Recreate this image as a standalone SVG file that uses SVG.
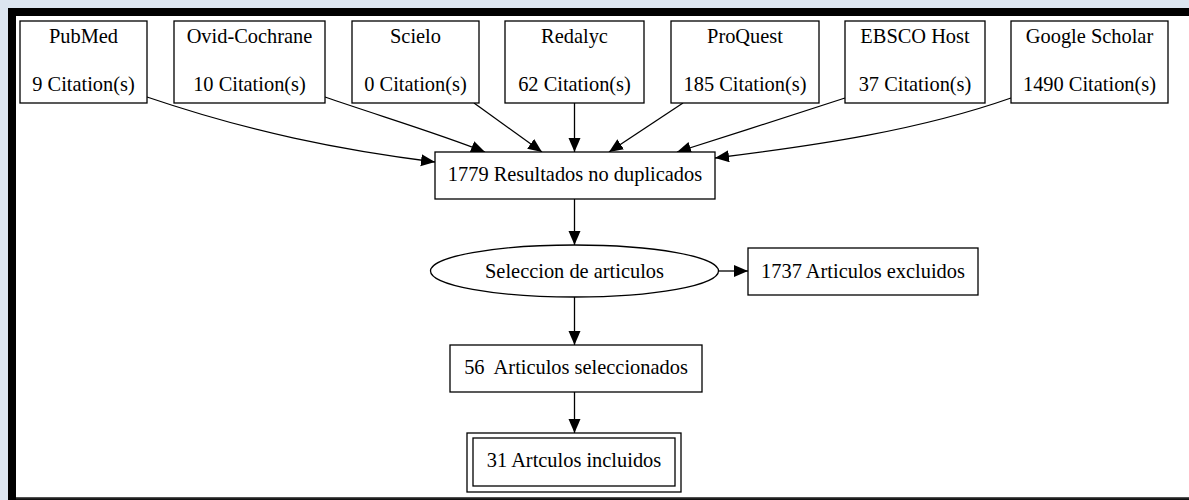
<svg xmlns="http://www.w3.org/2000/svg" width="1189" height="500" viewBox="0 0 1189 500">
<style>
.box{fill:#fff;stroke:#000;stroke-width:1.3}
.t{font-family:"Liberation Serif","Times New Roman",serif;font-size:20.4px;fill:#000;text-anchor:middle}
.e{fill:none;stroke:#000;stroke-width:1.3}
</style>
<defs>
<marker id="ah" markerUnits="userSpaceOnUse" markerWidth="16" markerHeight="14" refX="14" refY="6" orient="auto">
<path d="M0,0 L14,6 L0,12 Z" fill="#000"/>
</marker>
</defs>
<rect x="0" y="0" width="1189" height="500" fill="#dce5f0"/>
<rect x="8" y="8" width="1181" height="492" fill="#000"/>
<rect x="16" y="16" width="1173" height="481.5" fill="#fff"/>
<line x1="16" y1="498.5" x2="1189" y2="498.5" stroke="#222" stroke-width="2"/>

<g id="connectors">
<path class="e" d="M147,97 C250,132 340,150 435,162" marker-end="url(#ah)"/>
<path class="e" d="M325,97 C380,116 440,134 485,152" marker-end="url(#ah)"/>
<path class="e" d="M474,103 L542,152" marker-end="url(#ah)"/>
<path class="e" d="M574.5,103 L574.5,152" marker-end="url(#ah)"/>
<path class="e" d="M683,103 L609,152" marker-end="url(#ah)"/>
<path class="e" d="M845,98 C800,113 730,135 677,152" marker-end="url(#ah)"/>
<path class="e" d="M1011,98 C920,130 820,145 715,158" marker-end="url(#ah)"/>
<path class="e" d="M574.5,199 L574.5,245" marker-end="url(#ah)"/>
<path class="e" d="M718,271 L748,271" marker-end="url(#ah)"/>
<path class="e" d="M574.5,297 L574.5,345" marker-end="url(#ah)"/>
<path class="e" d="M574.5,392 L574.5,433" marker-end="url(#ah)"/>
</g>

<g id="pubmed"><rect class="box" x="20" y="21" width="127" height="82"/><text class="t" x="83.5" y="43">PubMed</text><text class="t" x="83.5" y="91">9 Citation(s)</text></g>
<g id="ovid"><rect class="box" x="174" y="21" width="151" height="82"/><text class="t" x="249.5" y="43">Ovid-Cochrane</text><text class="t" x="249.5" y="91">10 Citation(s)</text></g>
<g id="scielo"><rect class="box" x="352" y="21" width="127" height="82"/><text class="t" x="415.5" y="43">Scielo</text><text class="t" x="415.5" y="91">0 Citation(s)</text></g>
<g id="redalyc"><rect class="box" x="505" y="21" width="139" height="82"/><text class="t" x="574.5" y="43">Redalyc</text><text class="t" x="574.5" y="91">62 Citation(s)</text></g>
<g id="proquest"><rect class="box" x="671" y="21" width="148" height="82"/><text class="t" x="745" y="43">ProQuest</text><text class="t" x="745" y="91">185 Citation(s)</text></g>
<g id="ebsco"><rect class="box" x="845" y="21" width="140" height="82"/><text class="t" x="915" y="43">EBSCO Host</text><text class="t" x="915" y="91">37 Citation(s)</text></g>
<g id="google"><rect class="box" x="1011" y="21" width="157" height="82"/><text class="t" x="1089.5" y="43">Google Scholar</text><text class="t" x="1089.5" y="91">1490 Citation(s)</text></g>

<g id="resultados"><rect class="box" x="435" y="152" width="280" height="47"/><text class="t" x="575" y="181">1779 Resultados no duplicados</text></g>
<g id="seleccion"><ellipse class="box" cx="574.5" cy="271" rx="144" ry="26"/><text class="t" x="574.5" y="278">Seleccion de articulos</text></g>
<g id="excluidos"><rect class="box" x="748" y="248" width="230" height="47"/><text class="t" x="863" y="278">1737 Articulos excluidos</text></g>
<g id="seleccionados"><rect class="box" x="450" y="345" width="252" height="47"/><text class="t" x="576" y="374" xml:space="preserve">56  Articulos seleccionados</text></g>
<g id="incluidos"><rect class="box" x="467" y="433" width="214" height="59"/><rect class="box" x="473" y="438" width="202" height="48"/><text class="t" x="574" y="467">31 Artculos incluidos</text></g>
</svg>
